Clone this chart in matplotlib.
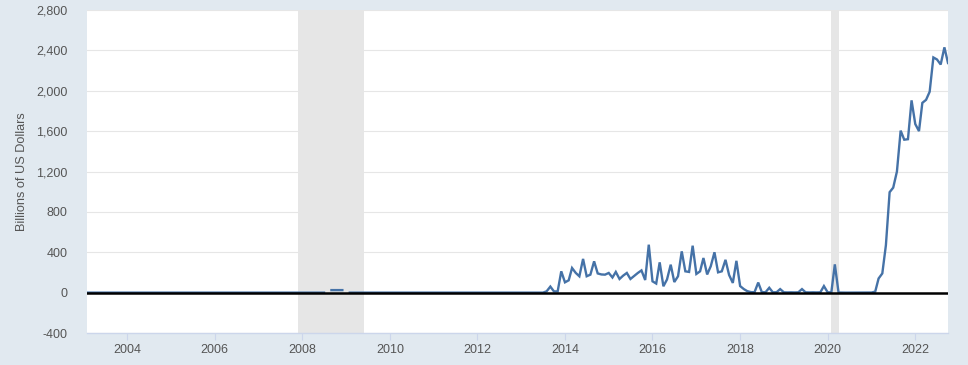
import numpy as np
import pandas as pd
import matplotlib
matplotlib.use("Agg")
import matplotlib.pyplot as plt
import matplotlib.dates as mdates
from matplotlib.ticker import FuncFormatter

# monthly, end of period, billions of US dollars
months = pd.date_range("2003-02-01", "2022-10-01", freq="MS")

# the only non-zero stretch before 2013
blip_2008_months = pd.date_range("2008-09-01", "2008-12-01", freq="MS")
blip_2008 = [25, 25, 25, 25]

# Aug 2013 .. Oct 2022
rrp_start = "2013-08-01"
rrp_values = [
    13, 60, 12, 12, 211,                                              # 2013
    102, 122, 244, 195, 162, 334, 162, 178, 310, 190, 180, 178,       # 2014
    195, 150, 205, 135, 168, 195, 135, 165, 195, 220, 125, 475,       # 2015
    112, 90, 300, 63, 130, 277, 105, 162, 409, 211, 205, 465,         # 2016
    185, 211, 343, 180, 261, 400, 201, 211, 325, 175, 96, 315,        # 2017
    65, 35, 15, 5, 4, 100, 5, 4, 48, 3, 4, 35,                        # 2018
    3, 2, 3, 2, 3, 35, 3, 2, 3, 2, 3, 65,                             # 2019
    3, 3, 280, 1, 0, 0, 0, 0, 0, 0, 0, 1,                             # 2020
    1, 10, 140, 190, 470, 995, 1040, 1200, 1605, 1515, 1520, 1905,    # 2021
    1670, 1600, 1880, 1910, 1990, 2330, 2310, 2260, 2430, 2275,       # 2022
]

recessions = [("2007-12-01", "2009-06-01"), ("2020-02-01", "2020-04-01")]

yticks = [-400, 0, 400, 800, 1200, 1600, 2000, 2400, 2800]
xtick_years = list(range(2004, 2023, 2))

series = pd.Series(0.0, index=months)
series.loc[pd.Timestamp("2008-08-01")] = np.nan
series.loc[pd.Timestamp("2009-01-01")] = np.nan
series.loc[blip_2008_months] = blip_2008
rrp_index = pd.date_range(rrp_start, periods=len(rrp_values), freq="MS")
series.loc[rrp_index] = rrp_values

bg = "#e1e9f0"
fig = plt.figure(figsize=(9.68, 3.65), dpi=100, facecolor=bg)
ax = fig.add_axes([87 / 968, 1 - 333 / 365, (948 - 87) / 968, (333 - 10) / 365])
ax.set_facecolor("white")

for a, b in recessions:
    ax.axvspan(pd.Timestamp(a), pd.Timestamp(b), color="#e6e6e6", lw=0, zorder=1)

ax.plot(series.index, series.values, color="#4572a7", lw=1.7, zorder=3,
        solid_joinstyle="miter")
ax.axhline(0, color="black", lw=1.8, zorder=4)

ax.set_ylim(-400, 2800)
ax.set_xlim(months[0], months[-1])
ax.set_yticks(yticks)
ax.yaxis.set_major_formatter(FuncFormatter(lambda v, p: f"{int(v):,}"))
ax.grid(axis="y", color="#e6e6e6", lw=0.8, zorder=0)
ax.set_axisbelow(True)

ax.set_xticks([pd.Timestamp(f"{y}-01-01") for y in xtick_years])
ax.xaxis.set_major_formatter(mdates.DateFormatter("%Y"))

for s in ["top", "right", "left"]:
    ax.spines[s].set_visible(False)
ax.spines["bottom"].set_color("#ccd6eb")
ax.spines["bottom"].set_linewidth(1)

tick_font = ["Liberation Sans Narrow", "Liberation Sans", "DejaVu Sans"]
ax.tick_params(axis="y", length=0, pad=14, labelsize=9, labelcolor="#555555")
ax.tick_params(axis="x", length=5, color="#ccd6eb", pad=3, labelsize=9,
               labelcolor="#555555")
for lab in ax.get_xticklabels() + ax.get_yticklabels():
    lab.set_family(tick_font)

ax.set_ylabel("Billions of US Dollars", fontsize=9.2, color="#555555",
              family=["Liberation Sans", "DejaVu Sans"], labelpad=6)

fig.savefig("out.png", dpi=100, facecolor=bg)
